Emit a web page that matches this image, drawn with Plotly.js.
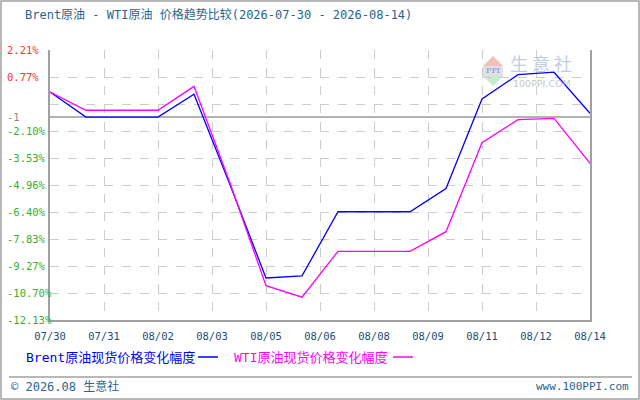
<!DOCTYPE html>
<html>
<head>
<meta charset="utf-8">
<script src="https://cdn.plot.ly/plotly-3.0.1.min.js"></script>
<style>
html,body{margin:0;padding:0;background:#fff;}
#chart{width:640px;height:400px;}
</style>
</head>
<body>
<div id="chart"></div>
<script>
// ---- data ----
var dates = ['2026-07-30','2026-07-31','2026-08-01','2026-08-02','2026-08-03','2026-08-04','2026-08-05','2026-08-06',
             '2026-08-07','2026-08-08','2026-08-09','2026-08-10','2026-08-11','2026-08-12','2026-08-13','2026-08-14'];
var brent = [-0.02,-1.35,-1.35,-1.35,-0.14,-4.95,-9.90,-9.79,-6.38,-6.38,-6.38,-5.15,-0.39,0.90,1.03,-1.15];
var wti   = [-0.02,-0.99,-0.99,-0.99,0.28,-4.85,-10.31,-10.92,-8.48,-8.48,-8.48,-7.44,-2.71,-1.49,-1.42,-3.81];
var xTickText = ['07/30','07/31','08/02','08/03','08/05','08/06','08/08','08/09','08/11','08/12','08/14'];
var yTickVals = [2.21,0.776,-0.658,-2.092,-3.526,-4.96,-6.394,-7.828,-9.262,-10.696,-12.13];
var yLabelVals = [2.21,0.776,-2.092,-3.526,-4.96,-6.394,-7.828,-9.262,-10.696,-12.13];
var yLabelText = ['2.21%','0.77%','-2.10%','-3.53%','-4.96%','-6.40%','-7.83%','-9.27%','-10.70%','-12.13%'];
var refLineVal = -1.35;
var refLineText = '-1';
var seriesNames = ['Brent原油现货价格变化幅度','WTI原油现货价格变化幅度'];
var titleText = 'Brent原油 - WTI原油 价格趋势比较(2026-07-30 - 2026-08-14)';

// ---- helpers ----
var L = 50, R = 590, T = 50, B = 320;
function px(x){ return (x - L) / (R - L); }
function py(y){ return (B - y) / (B - T); }
var MONO = '"DejaVu Sans Mono", "Noto Sans CJK SC", monospace';

// tick positions every 1.5 days
var t0 = Date.UTC(2026,6,30);
var xTickVals = xTickText.map(function(_, k){
  var d = new Date(t0 + k*36*3600*1000);
  function p(n){return (n<10?'0':'')+n;}
  return d.getUTCFullYear()+'-'+p(d.getUTCMonth()+1)+'-'+p(d.getUTCDate())+' '+p(d.getUTCHours())+':00';
});

var traces = [
  {x: dates, y: brent, type:'scatter', mode:'lines', name: seriesNames[0],
   line:{color:'#0000ff', width:1.3}, hoverinfo:'skip'},
  {x: dates, y: wti, type:'scatter', mode:'lines', name: seriesNames[1],
   line:{color:'#ff00ff', width:1.3}, hoverinfo:'skip'}
];

var annotations = [];
yLabelVals.forEach(function(v, i){
  annotations.push({xref:'paper', yref:'y', x:px(5), y:v, xanchor:'left', yanchor:'middle',
    text:yLabelText[i], showarrow:false,
    font:{family:MONO, size:10.5, color: v > 0 ? '#ff3333' : '#33b033'}});
});
annotations.push({xref:'paper', yref:'y', x:px(5), y:refLineVal, xanchor:'left', yanchor:'middle',
  text:refLineText, showarrow:false, font:{family:MONO, size:10.5, color:'#888888'}});
// legend
annotations.push({xref:'paper', yref:'paper', x:px(24), y:py(357), xanchor:'left', yanchor:'middle',
  text:seriesNames[0], showarrow:false, font:{family:MONO, size:13, color:'#0000ff'}});
annotations.push({xref:'paper', yref:'paper', x:px(232), y:py(357), xanchor:'left', yanchor:'middle',
  text:seriesNames[1], showarrow:false, font:{family:MONO, size:13, color:'#ff00ff'}});
// footer
annotations.push({xref:'paper', yref:'paper', x:px(9), y:py(386), xanchor:'left', yanchor:'middle',
  text:'© 2026.08 生意社', showarrow:false, font:{family:MONO, size:12, color:'#2a6690'}});
annotations.push({xref:'paper', yref:'paper', x:px(631), y:py(386), xanchor:'right', yanchor:'middle',
  text:'www.100PPI.com', showarrow:false, font:{family:MONO, size:11, color:'#2a6690'}});
// watermark
annotations.push({xref:'paper', yref:'paper', x:px(541), y:py(63), xanchor:'center', yanchor:'middle',
  text:'生 意 社', showarrow:false, font:{family:'"Noto Sans CJK SC"', size:18, color:'rgba(170,178,210,0.7)'}});
annotations.push({xref:'paper', yref:'paper', x:px(542), y:py(84), xanchor:'center', yanchor:'middle',
  text:'100PPI.COM', showarrow:false, font:{family:'"DejaVu Sans"', size:9.5, color:'rgba(190,190,190,0.9)'}});
annotations.push({xref:'paper', yref:'paper', x:px(493), y:py(71), xanchor:'center', yanchor:'middle',
  text:'PPI', showarrow:false, font:{family:'"DejaVu Serif"', size:8, color:'rgba(120,130,170,0.8)'}});

function P(x,y){ return px(x)+','+py(y); }
var shapes = [
  // reference line
  {type:'line', xref:'paper', yref:'y', x0:0, x1:1, y0:refLineVal, y1:refLineVal,
   line:{color:'#999999', width:1.5}, layer:'below'},
  // legend line marks
  {type:'line', xref:'paper', yref:'paper', x0:px(198), x1:px(218), y0:py(357), y1:py(357), line:{color:'#0000ff', width:1.5}},
  {type:'line', xref:'paper', yref:'paper', x0:px(393), x1:px(413), y0:py(357), y1:py(357), line:{color:'#ff00ff', width:1.5}},
  // footer separator
  {type:'line', xref:'paper', yref:'paper', x0:px(9), x1:px(632), y0:py(377), y1:py(377), line:{color:'#a0a0a0', width:1.5}},
  // outer border
  {type:'rect', xref:'paper', yref:'paper', x0:px(1), x1:px(639), y0:py(399), y1:py(1), line:{color:'#a0a0a0', width:1.5}},
  // watermark logo
  {type:'path', xref:'paper', yref:'paper', path:'M'+P(493,56)+' L'+P(483,66)+' L'+P(503,66)+' Z',
   fillcolor:'rgba(240,170,160,0.75)', line:{width:0}, layer:'below'},
  {type:'rect', xref:'paper', yref:'paper', x0:px(483), x1:px(503), y0:py(76), y1:py(66),
   fillcolor:'rgba(200,205,225,0.6)', line:{width:0}, layer:'below'},
  {type:'path', xref:'paper', yref:'paper', path:'M'+P(483,76)+' L'+P(503,76)+' L'+P(493,86)+' Z',
   fillcolor:'rgba(180,230,180,0.75)', line:{width:0}, layer:'below'}
];

var layout = {
  width:640, height:400,
  margin:{l:L, r:640-R, t:T, b:400-B, pad:0},
  paper_bgcolor:'#ffffff', plot_bgcolor:'#ffffff',
  showlegend:false,
  title:{text:titleText, x:25/640, xanchor:'left', xref:'container', y:1-15/400, yanchor:'middle', yref:'container',
         font:{family:MONO, size:12, color:'#1f6690'}},
  xaxis:{type:'date', range:[dates[0], dates[dates.length-1]], tickmode:'array', tickvals:xTickVals, ticktext:xTickText,
         showgrid:true, gridcolor:'#cccccc', griddash:'dash', gridwidth:1,
         showline:true, linecolor:'#a0a0a0', linewidth:2, mirror:false,
         ticks:'outside', ticklen:5, tickcolor:'rgba(0,0,0,0)',
         tickfont:{family:MONO, size:10.5, color:'#1f4e79'}, zeroline:false, fixedrange:true},
  yaxis:{range:[-12.13, 2.21], tickmode:'array', tickvals:yTickVals, showticklabels:false,
         showgrid:true, gridcolor:'#cccccc', griddash:'dash', gridwidth:1,
         showline:true, linecolor:'#a0a0a0', linewidth:2, mirror:true, ticks:'',
         zeroline:false, fixedrange:true},
  annotations: annotations,
  shapes: shapes
};

Plotly.newPlot('chart', traces, layout, {staticPlot:true, displayModeBar:false});
</script>
</body>
</html>
